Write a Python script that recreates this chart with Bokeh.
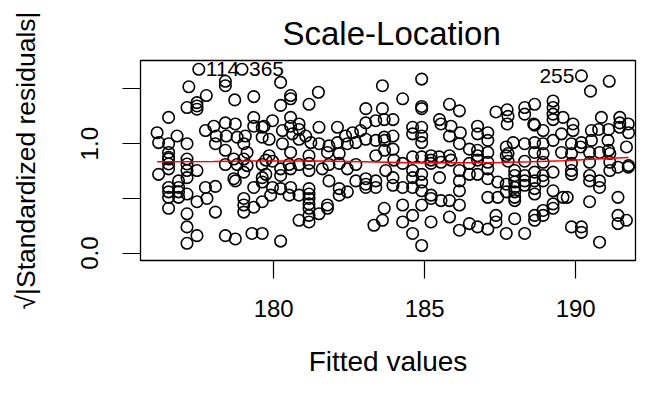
from bokeh.plotting import figure
from bokeh.models import Range1d, FixedTicker
from bokeh.embed import file_html
from bokeh.resources import INLINE
from bokeh.core.properties import value

FONT = "Liberation Sans"

# Fitted values and sqrt(|standardized residuals|)
fitted = [
    177.52, 178.95, 178.40, 178.40, 177.19, 177.77, 178.71, 179.34, 177.46, 177.46,
    177.46, 177.13, 176.52, 177.74, 178.02, 178.10, 178.40, 178.43, 178.73, 178.79,
    179.06, 179.34, 179.34, 179.62, 179.62, 179.01, 176.14, 176.19, 176.52, 176.80,
    176.52, 177.13, 178.07, 178.40, 179.12, 176.52,
    180.23, 180.56, 180.56, 181.48, 180.23, 181.17, 183.60, 183.05, 183.60, 183.05,
    183.38, 183.66, 179.96, 180.56, 180.56, 180.84, 180.84, 179.68, 180.29, 180.62,
    181.06, 181.50, 182.11, 182.61, 182.88, 182.38, 179.85, 180.29, 180.84, 181.23,
    181.50, 181.83, 182.11, 182.44, 182.72, 183.05, 183.38, 183.66, 179.85, 180.56,
    181.17, 181.78, 182.17, 183.38,
    184.90, 184.27, 184.90, 184.90, 185.82, 186.15, 183.95, 185.49, 185.54, 185.87,
    187.36, 184.60, 184.90, 184.60, 184.90, 184.90, 185.82, 186.18, 186.75, 186.75,
    187.09, 187.09, 183.95, 183.67, 183.95, 183.67, 186.15, 186.48, 186.75, 186.75,
    187.09, 187.70, 187.70, 184.60, 184.90, 185.21, 185.48, 185.82,
    190.19, 191.11, 190.49, 187.73, 187.76, 187.73, 188.31, 188.31, 188.64, 189.25,
    189.25, 189.25, 189.25, 188.61, 188.64, 188.92, 189.58, 189.91, 189.91, 190.52,
    190.85, 191.46, 191.46, 191.46, 191.74, 187.93, 188.31, 188.64, 188.92, 189.25,
    189.53, 189.86, 190.19, 190.52, 191.07, 191.68, 187.76, 188.64, 188.92, 189.53,
    189.86, 190.46, 190.79, 191.13, 191.75, 191.75, 190.76, 191.09, 190.16, 191.09,
    176.19, 176.52, 176.52, 177.13, 177.13, 177.13, 177.46, 176.85, 176.52, 176.52,
    176.52, 176.85, 176.85, 176.85, 176.52, 177.13, 177.46, 177.13, 177.74, 178.07,
    177.79, 178.07, 177.13, 177.46, 177.13, 178.40, 178.73, 179.28, 179.62, 178.68,
    178.73, 179.01, 179.01, 179.01, 179.01, 179.34, 179.34, 179.62, 179.62, 178.40,
    178.79, 179.12, 179.62, 176.52, 177.13, 178.68, 179.01,
    179.74, 179.62, 180.23, 180.23, 180.56, 180.56, 181.17, 179.96, 180.23, 179.90,
    180.51, 180.84, 181.17, 181.17, 181.17, 181.17, 181.17, 181.17, 181.17, 180.84,
    181.50, 181.78, 181.78, 181.83, 182.17, 182.17, 182.44, 182.72, 183.05, 183.05,
    183.05, 183.38, 183.38, 183.66, 183.32, 183.60, 180.23, 180.51, 180.84, 181.17,
    181.83, 182.17, 182.44, 182.72, 181.61, 183.71, 179.74, 179.96,
    183.95, 183.95, 184.27, 184.60, 184.60, 184.60, 184.90, 184.90, 184.90, 185.21,
    185.21, 184.90, 185.49, 185.54, 185.82, 186.15, 186.15, 186.15, 186.15, 186.48,
    186.75, 187.09, 187.09, 187.42, 187.70, 187.70, 187.09, 187.42, 184.27, 184.27,
    184.60, 185.21, 185.82, 184.60, 184.90, 186.15, 186.48, 186.75, 187.09, 187.36,
    187.36, 187.70, 183.98, 185.21, 185.87, 186.75, 184.27, 185.21, 185.54, 186.48,
    187.09,
    187.98, 187.98, 187.98, 187.98, 187.98, 187.98, 187.98, 188.31, 188.31, 188.31,
    188.64, 188.64, 188.64, 188.64, 188.92, 188.92, 189.25, 189.25, 189.58, 189.25,
    189.25, 188.92, 188.92, 188.64, 188.64, 187.98, 188.31, 189.86, 189.86, 189.86,
    190.19, 190.19, 190.46, 190.46, 190.79, 190.79, 190.46, 191.13, 191.40, 191.74,
    191.40, 191.40, 191.40, 191.68, 190.79, 187.76, 188.31, 188.92, 189.86, 190.46,
    191.13, 189.72,
]
sqrt_abs_std_resid = [
    1.68, 1.68, 1.57, 1.53, 1.52, 1.44, 1.40, 1.43, 1.375, 1.345,
    1.315, 1.33, 1.24, 1.12, 1.16, 1.07, 1.19, 1.07, 1.18, 1.06,
    1.07, 1.24, 1.16, 1.15, 1.06, 1.00, 1.10, 1.01, 1.00, 1.07,
    0.92, 1.00, 1.00, 0.94, 0.92, 0.875,
    1.56, 1.44, 1.41, 1.47, 1.35, 1.36, 1.53, 1.32, 1.32, 1.19,
    1.21, 1.22, 1.21, 1.24, 1.16, 1.18, 1.13, 1.16, 1.12, 1.09,
    1.07, 1.15, 1.15, 1.10, 1.12, 1.07, 1.04, 1.00, 1.04, 1.01,
    1.00, 0.98, 1.01, 1.00, 1.01, 1.04, 1.03, 1.06, 0.89, 0.92,
    0.89, 0.92, 0.91, 0.89,
    1.59, 1.41, 1.34, 1.32, 1.36, 1.30, 1.22, 1.22, 1.18, 1.16,
    1.29, 1.15, 1.15, 1.09, 1.07, 1.01, 1.07, 1.10, 1.16, 1.09,
    1.10, 1.03, 1.07, 1.03, 0.95, 0.94, 1.00, 0.95, 0.94, 0.89,
    0.92, 0.97, 0.89, 0.88, 0.88, 0.89, 0.88, 0.89,
    1.62, 1.57, 1.48, 1.31, 1.25, 1.18, 1.33, 1.27, 1.36, 1.39,
    1.33, 1.27, 1.22, 1.18, 1.17, 1.12, 1.24, 1.18, 1.12, 1.12,
    1.24, 1.24, 1.19, 1.15, 1.18, 1.01, 1.00, 1.01, 1.00, 1.03,
    1.09, 1.00, 1.01, 1.03, 1.03, 0.97, 0.91, 0.92, 0.91, 0.92,
    0.91, 0.92, 0.92, 0.91, 1.10, 0.80, 1.13, 1.13, 0.97, 0.94,
    0.72, 0.815, 0.77, 0.815, 0.755, 0.69, 0.755, 0.66, 0.60, 0.56,
    0.51, 0.60, 0.56, 0.51, 0.41, 0.54, 0.47, 0.36, 0.60, 0.61,
    0.50, 0.375, 0.24, 0.16, 0.09, 0.16, 0.13, 0.18, 0.18, 0.68,
    0.66, 0.74, 0.50, 0.44, 0.375, 0.60, 0.42, 0.47, 0.69, 0.81,
    0.81, 0.80, 0.81, 0.86, 0.86, 0.86, 0.86,
    0.72, 0.65, 0.71, 0.77, 0.77, 0.60, 0.755, 0.60, 0.59, 0.53,
    0.53, 0.53, 0.59, 0.54, 0.50, 0.45, 0.41, 0.345, 0.285, 0.30,
    0.36, 0.44, 0.41, 0.66, 0.59, 0.53, 0.56, 0.66, 0.68, 0.63,
    0.60, 0.66, 0.60, 0.41, 0.255, 0.30, 0.11, 0.81, 0.81, 0.82,
    0.81, 0.82, 0.77, 0.81, 0.77, 0.755, 0.85, 0.84,
    0.69, 0.62, 0.60, 0.755, 0.69, 0.60, 0.72, 0.65, 0.57, 0.53,
    0.50, 0.44, 0.69, 0.48, 0.48, 0.66, 0.57, 0.44, 0.755, 0.72,
    0.72, 0.77, 0.68, 0.65, 0.63, 0.56, 0.51, 0.51, 0.44, 0.285,
    0.345, 0.285, 0.33, 0.18, 0.07, 0.21, 0.27, 0.24, 0.22, 0.345,
    0.285, 0.18, 0.85, 0.85, 0.85, 0.85, 0.82, 0.82, 0.83, 0.82,
    0.83,
    0.755, 0.71, 0.65, 0.60, 0.56, 0.51, 0.48, 0.71, 0.66, 0.62,
    0.74, 0.66, 0.59, 0.54, 0.71, 0.66, 0.74, 0.57, 0.51, 0.45,
    0.41, 0.39, 0.345, 0.345, 0.30, 0.315, 0.18, 0.755, 0.72, 0.24,
    0.24, 0.19, 0.71, 0.66, 0.66, 0.60, 0.47, 0.755, 0.785, 0.785,
    0.51, 0.345, 0.27, 0.30, 0.10, 0.84, 0.84, 0.83, 0.82, 0.83,
    0.83, 0.51,
]

# lowess smoother (red line)
smooth_x = [176.14, 178.0, 180.0, 181.5, 183.0, 184.5, 186.0, 187.5, 188.5, 189.6, 190.7, 191.75]
smooth_y = [0.836, 0.838, 0.843, 0.842, 0.835, 0.827, 0.825, 0.828, 0.835, 0.845, 0.860, 0.875]

# identified observations
id_labels = ["114", "365", "255"]
id_x = [177.52, 178.95, 190.19]
id_y = [1.68, 1.68, 1.62]

x_ticks = [180, 185, 190]
y_ticks = [0.0, 0.5, 1.0, 1.5]
y_tick_labels = {0.0: "0.0", 0.5: "", 1.0: "1.0", 1.5: ""}

p = figure(width=637, height=380, output_backend="svg", toolbar_location=None,
           x_range=Range1d(175.59, 191.98), y_range=Range1d(-0.067, 1.76),
           min_border_left=140, min_border_right=2, min_border_top=60, min_border_bottom=120,
           title="Scale-Location")

p.background_fill_color = "white"
p.border_fill_color = "white"
p.outline_line_color = "black"
p.outline_line_width = 1.3
p.xgrid.visible = False
p.ygrid.visible = False

p.title.text_font = FONT
p.title.text_font_size = "33px"
p.title.text_font_style = "normal"
p.title.text_color = "black"
p.title.align = "left"
p.title.offset = 142
p.title.standoff = 17

for ax in (p.xaxis[0], p.yaxis[0]):
    ax.axis_line_color = "black"
    ax.major_tick_line_color = "black"
    ax.major_tick_line_width = 1.2
    ax.major_tick_in = 0
    ax.major_tick_out = 18
    ax.minor_tick_line_color = None
    ax.major_label_text_font = FONT
    ax.major_label_text_font_size = "24px"
    ax.major_label_text_color = "black"
    ax.axis_label_text_font = FONT
    ax.axis_label_text_font_style = "normal"
    ax.axis_label_text_color = "black"

p.xaxis[0].ticker = FixedTicker(ticks=x_ticks)
p.xaxis[0].axis_label = "Fitted values"
p.xaxis[0].axis_label_text_font_size = "28px"
p.xaxis[0].major_label_standoff = 21
p.xaxis[0].axis_label_standoff = 26

p.yaxis[0].ticker = FixedTicker(ticks=y_ticks)
p.yaxis[0].major_label_overrides = y_tick_labels
p.yaxis[0].major_label_orientation = "vertical"
p.yaxis[0].axis_label = "\u221a|Standardized residuals|"
p.yaxis[0].axis_label_text_font_size = "26.5px"
p.yaxis[0].major_label_standoff = 24
p.yaxis[0].axis_label_standoff = 38

p.scatter(fitted, sqrt_abs_std_resid, marker="circle", size=11.5,
          fill_color=None, line_color="black", line_width=1.6)
p.line(smooth_x, smooth_y, line_color="red", line_width=1.5)
p.text(id_x[:2], id_y[:2], text=id_labels[:2], x_offset=7, text_align="left",
       text_baseline="middle", text_font=value(FONT), text_font_size="21px", text_color="black")
p.text(id_x[2:], id_y[2:], text=id_labels[2:], x_offset=-7, text_align="right",
       text_baseline="middle", text_font=value(FONT), text_font_size="21px", text_color="black")

open("out.html", "w").write(file_html(p, INLINE))
